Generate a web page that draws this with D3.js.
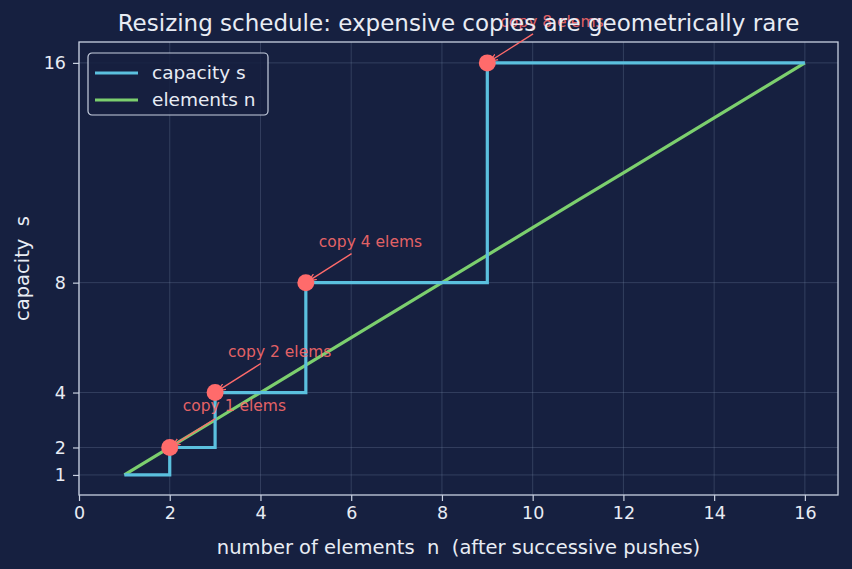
<!DOCTYPE html>
<html>
<head>
<meta charset="utf-8">
<script src="https://cdn.jsdelivr.net/npm/d3@7"></script>
<style>
  body { margin: 0; background: #162040; }
  text { font-family: "DejaVu Sans", sans-serif; }
</style>
</head>
<body>
<div id="chart"></div>
<script>
// data: elements after each push and the capacity at that moment
var elements = [1, 2, 3, 4, 5, 6, 7, 8, 9, 10, 11, 12, 13, 14, 15, 16];
var capacity = [1, 2, 4, 4, 8, 8, 8, 8, 16, 16, 16, 16, 16, 16, 16, 16];
// resize events: n where a copy happens, new capacity, elements copied
var resizeN = [2, 3, 5, 9];
var resizeCap = [2, 4, 8, 16];
var copied = [1, 2, 4, 8];
var xTicks = [0, 2, 4, 6, 8, 10, 12, 14, 16];
var yTicks = [1, 2, 4, 8, 16];

var W = 852, H = 569;
var margin = {top: 42, right: 14, bottom: 74, left: 79},
    width = W - margin.left - margin.right,
    height = H - margin.top - margin.bottom;

var fg = "#e8ecf4", spine = "#c8d0e0";
var blue = "#5bc0de", green = "#7ccf6e", red = "#ff6b6b";

var svg = d3.select("#chart").append("svg")
    .attr("width", W).attr("height", H)
    .style("background", "#162040");

var g = svg.append("g")
    .attr("transform", "translate(" + margin.left + "," + margin.top + ")");

var x = d3.scaleLinear().domain([0, 16.73]).range([0, width]);
var y = d3.scaleLinear().domain([0.27, 16.76]).range([height, 0]);

// grid
g.append("g").selectAll("line").data(xTicks).enter().append("line")
    .attr("x1", function(d) { return x(d); }).attr("x2", function(d) { return x(d); })
    .attr("y1", 0).attr("y2", height)
    .attr("stroke", "#8090b0").attr("stroke-opacity", 0.35).attr("stroke-width", 0.8);
g.append("g").selectAll("line").data(yTicks).enter().append("line")
    .attr("y1", function(d) { return y(d); }).attr("y2", function(d) { return y(d); })
    .attr("x1", 0).attr("x2", width)
    .attr("stroke", "#8090b0").attr("stroke-opacity", 0.35).attr("stroke-width", 0.8);

// axes
var xAxis = g.append("g")
    .attr("transform", "translate(0," + height + ")")
    .call(d3.axisBottom(x).tickValues(xTicks).tickSize(6).tickPadding(6));
var yAxis = g.append("g")
    .call(d3.axisLeft(y).tickValues(yTicks).tickSize(6).tickPadding(7));
[xAxis, yAxis].forEach(function(a) {
  a.select(".domain").remove();
  a.selectAll("line").attr("stroke", spine).attr("stroke-width", 1.2);
  a.selectAll("text").attr("fill", fg).style("font-size", "17.5px");
});

// frame
g.append("rect")
    .attr("width", width).attr("height", height)
    .attr("fill", "none").attr("stroke", spine).attr("stroke-width", 1.3);

// elements line
g.append("path")
    .datum(elements)
    .attr("d", d3.line().x(function(d) { return x(d); }).y(function(d) { return y(d); }))
    .attr("fill", "none").attr("stroke", green).attr("stroke-width", 3.2);

// capacity step line
g.append("path")
    .datum(elements.map(function(n, i) { return [n, capacity[i]]; }))
    .attr("d", d3.line().curve(d3.curveStepAfter)
      .x(function(d) { return x(d[0]); }).y(function(d) { return y(d[1]); }))
    .attr("fill", "none").attr("stroke", blue).attr("stroke-width", 3.2);

// markers
g.selectAll(".dot").data(resizeN).enter().append("circle")
    .attr("cx", function(d) { return x(d); })
    .attr("cy", function(d, i) { return y(resizeCap[i]); })
    .attr("r", 8.5).attr("fill", red);

// annotations
svg.append("defs").append("marker")
    .attr("id", "head").attr("viewBox", "0 0 10 10")
    .attr("refX", 10).attr("refY", 5)
    .attr("markerWidth", 8).attr("markerHeight", 8)
    .attr("markerUnits", "userSpaceOnUse")
    .attr("orient", "auto")
  .append("path").attr("d", "M0,1 L10,5 L0,9").attr("fill", "none")
    .attr("stroke", red).attr("stroke-width", 1.5);

resizeN.forEach(function(n, i) {
  var px = x(n), py = y(resizeCap[i]);
  var t = g.append("text")
      .attr("x", px + 13).attr("y", py - 36)
      .attr("fill", red).attr("fill-opacity", 0.9)
      .style("font-size", "15.5px")
      .text("copy " + copied[i] + " elems");
  var bb = t.node().getBBox();
  var cx = bb.x + bb.width / 2, cy = bb.y + bb.height / 2;
  // start where the centre-to-point line leaves the text box
  var dx = px - cx, dy = py - cy;
  var s = Math.min((bb.width / 2 + 3) / Math.abs(dx), (bb.height / 2 + 3) / Math.abs(dy));
  var len = Math.sqrt(dx * dx + dy * dy);
  var e = (len - 3) / len;
  g.insert("line", "circle")
      .attr("x1", cx + dx * s).attr("y1", cy + dy * s)
      .attr("x2", cx + dx * e).attr("y2", cy + dy * e)
      .attr("stroke", red).attr("stroke-width", 1.4)
      .attr("marker-end", "url(#head)");
});

// title and labels
svg.append("text")
    .attr("x", margin.left + width / 2).attr("y", 31)
    .attr("text-anchor", "middle").attr("fill", fg)
    .style("font-size", "23px")
    .text("Resizing schedule: expensive copies are geometrically rare");
svg.append("text")
    .attr("x", margin.left + width / 2).attr("y", 554)
    .attr("text-anchor", "middle").attr("fill", fg)
    .style("font-size", "19.5px")
    .style("white-space", "pre")
    .text("number of elements  n  (after successive pushes)");
svg.append("text")
    .attr("transform", "translate(29," + (margin.top + height / 2) + ") rotate(-90)")
    .attr("text-anchor", "middle").attr("fill", fg)
    .style("font-size", "19.5px")
    .style("white-space", "pre")
    .text("capacity  s");

// legend
var leg = g.append("g").attr("transform", "translate(9,11)");
leg.append("rect")
    .attr("width", 180).attr("height", 62).attr("rx", 4)
    .attr("fill", "#162040").attr("fill-opacity", 0.85)
    .attr("stroke", spine).attr("stroke-width", 1.2);
[["capacity s", blue], ["elements n", green]].forEach(function(d, i) {
  var ly = 20 + i * 27;
  leg.append("line").attr("x1", 7).attr("x2", 50).attr("y1", ly).attr("y2", ly)
      .attr("stroke", d[1]).attr("stroke-width", 3.2);
  leg.append("text").attr("x", 64).attr("y", ly + 6)
      .attr("fill", fg).style("font-size", "18.5px").text(d[0]);
});
</script>
</body>
</html>
